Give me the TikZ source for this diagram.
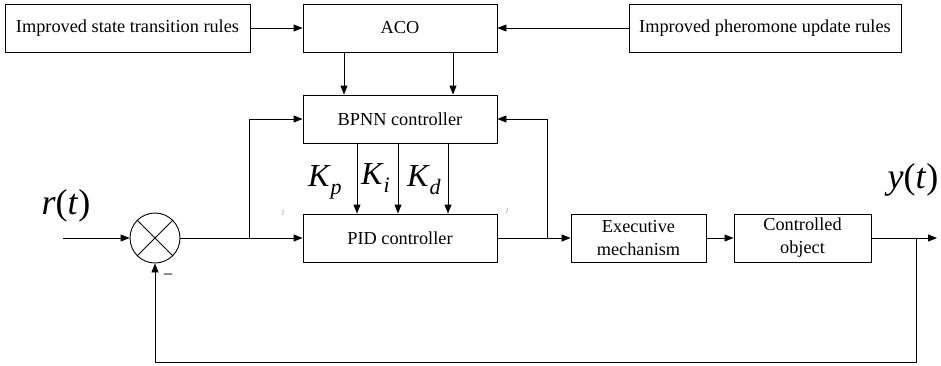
\documentclass[tikz,border=0pt]{standalone}
\usepackage{fontspec}
\setmainfont{Liberation Serif}
\usetikzlibrary{arrows.meta}
\begin{document}
\begin{tikzpicture}[x=1pt,y=-1pt,
  blk/.style={draw,line width=0.9pt,inner sep=0pt,align=center,font=\fontsize{18.3}{23}\selectfont},
  arr/.style={line width=0.9pt,-{Triangle[length=9pt,width=7pt]}},
  big/.style={font=\fontsize{36}{36}\selectfont,inner sep=0pt},
  kl/.style={font=\itshape\fontsize{32}{32}\selectfont,inner sep=0pt,anchor=base west},
  tiny/.style={font=\itshape\fontsize{7}{7}\selectfont,text=gray,inner sep=0pt}]
\useasboundingbox (0,0) rectangle (941,365);
% blocks
\node[blk,minimum width=245pt,minimum height=48pt] (st) at (127.5,28) {Improved state transition rules};
\node[blk,minimum width=194pt,minimum height=48pt] (aco) at (400,28) {ACO};
\node[blk,minimum width=272pt,minimum height=48pt] (ph) at (765,28) {Improved pheromone update rules};
\node[blk,minimum width=194pt,minimum height=48pt] (bp) at (400,119) {BPNN controller};
\node[blk,minimum width=194pt,minimum height=48pt] (pid) at (400,238) {PID controller};
\node[blk,minimum width=135pt,minimum height=48pt] (ex) at (638.5,238) {Executive\\mechanism};
\node[blk,minimum width=137pt,minimum height=48pt] (co) at (802.5,238) {Controlled\\object};
\node[draw,circle,line width=0.9pt,minimum size=50pt,inner sep=0pt] (sum) at (155,238) {};
\draw[line width=0.8pt] (sum.north west) -- (sum.south east) (sum.north east) -- (sum.south west);
% coordinates
\coordinate (in) at (63,238);
\coordinate (b1) at (249,238);
\coordinate (b2) at (547,238);
\coordinate (b3) at (916,238);
\coordinate (out) at (937,238);
\coordinate (fb) at (916,362);
% connectors
\draw[arr] (st.east) -- (aco.west);
\draw[arr] (ph.west) -- (aco.east);
\draw[arr] ([xshift=-56pt]aco.south) -- ([xshift=-56pt]bp.north);
\draw[arr] ([xshift=53pt]aco.south) -- ([xshift=53pt]bp.north);
\draw[arr] ([xshift=-43pt]bp.south) -- ([xshift=-43pt]pid.north);
\draw[arr] ([xshift=-2pt]bp.south) -- ([xshift=-2pt]pid.north);
\draw[arr] ([xshift=48pt]bp.south) -- ([xshift=48pt]pid.north);
\draw[arr] (in) -- (sum.west);
\draw[arr] (sum.east) -- (pid.west);
\draw[arr] (b1) |- (bp.west);
\draw[arr] (pid.east) -- (ex.west);
\draw[arr] (b2) |- (bp.east);
\draw[arr] (ex.east) -- (co.west);
\draw[arr] (co.east) -- (out);
\draw[arr] (b3) -- (fb) -| (sum.south);
% labels
\node[big] (rt) at (66,206) {\textit{r}(\textit{t})};
\node[big] (yt) at (913,180) {\textit{y}(\textit{t})};
\node[kl] (kp) at (308,186) {K\kern1pt\raisebox{-8pt}{\fontsize{22}{22}\selectfont p}};
\node[kl] (ki) at (361,184) {K\kern1pt\raisebox{-8pt}{\fontsize{22}{22}\selectfont i}};
\node[kl] (kd) at (407,186) {K\kern1pt\raisebox{-8pt}{\fontsize{22}{22}\selectfont d}};
\node[font=\fontsize{17}{17}\selectfont,inner sep=0pt] (minus) at (168,276) {\textendash};
\node[tiny] (t1) at (283,213) {l};
\node[tiny] (t2) at (507,211) {l};
\end{tikzpicture}
\end{document}
